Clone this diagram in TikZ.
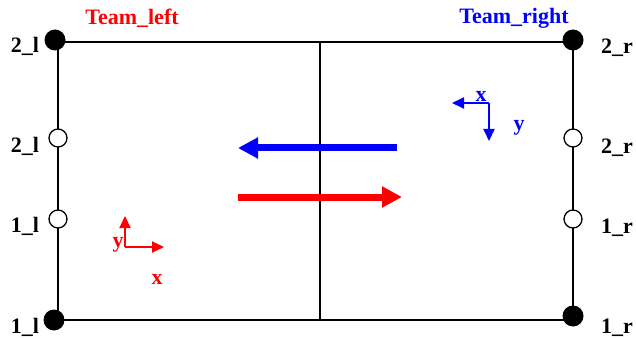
\documentclass[tikz,border=0pt]{standalone}
\usepackage{fontspec}
\setmainfont{Liberation Serif}
\usetikzlibrary{arrows.meta}
\begin{document}
\begin{tikzpicture}[x=1pt,y=-1pt,
  lbl/.style={font=\fontsize{22}{26}\selectfont\bfseries, inner sep=0pt},
  fdot/.style={circle, fill=black, minimum size=21pt, inner sep=0pt},
  odot/.style={circle, draw=black, fill=white, line width=1.3pt, minimum size=18pt, inner sep=0pt},
  edge/.style={line width=1.6pt},
  bigarrow/.style={line width=7pt, -{Triangle[length=20pt,width=20pt]}},
  axarrow/.style={line width=2pt, -{Triangle[length=12pt,width=11pt]}}]
\useasboundingbox (0,0) rectangle (636,339);
% frame corners
\coordinate (tl) at (58,42);
\coordinate (tr) at (573,42);
\coordinate (bl) at (58,320);
\coordinate (br) at (573,320);
\coordinate (mt) at (320,42);
\coordinate (mb) at (320,320);
\draw[edge] (tl) -- (tr) -- (br) -- (bl) -- cycle;
\draw[edge] (mt) -- (mb);
% dots
\node[fdot] (dTL) at (55,40) {};
\node[fdot] (dTR) at (573,40) {};
\node[fdot] (dBL) at (54,320) {};
\node[fdot] (dBR) at (573,316) {};
\node[odot] (oL2) at (58,138) {};
\node[odot] (oL1) at (58,219) {};
\node[odot] (oR2) at (573,138) {};
\node[odot] (oR1) at (573,219) {};
% labels
\node[lbl] (tL2) at (25,46) {2\_l};
\node[lbl] (tL2b) at (25,146) {2\_l};
\node[lbl] (tL1) at (25,226) {1\_l};
\node[lbl] (tL1b) at (25,327) {1\_l};
\node[lbl] (tR2) at (617,48) {2\_r};
\node[lbl] (tR2b) at (617,148) {2\_r};
\node[lbl] (tR1) at (617,228) {1\_r};
\node[lbl] (tR1b) at (617,328) {1\_r};
\node[lbl, text=red] (teamL) at (132,18) {Team\_left};
\node[lbl, text=blue] (teamR) at (514,18) {Team\_right};
% big arrows
\coordinate (bs) at (397,148);
\coordinate (be) at (238,148);
\coordinate (rs) at (238,197);
\coordinate (re) at (402,197);
\draw[bigarrow, blue] (bs) -- (be);
\draw[bigarrow, red] (rs) -- (re);
% red axes
\coordinate (ro) at (125,247);
\coordinate (ry) at (125,216);
\coordinate (rx) at (164,247);
\draw[axarrow, red] (ro) -- (ry);
\draw[axarrow, red] (ro) -- (rx);
\node[lbl, text=red] (ryl) at (118,245) {y};
\node[lbl, text=red] (rxl) at (157,279) {x};
% blue axes
\coordinate (bo) at (489,103);
\coordinate (bx) at (452,103);
\coordinate (by) at (489,141);
\draw[axarrow, blue] (bo) -- (bx);
\draw[axarrow, blue] (bo) -- (by);
\node[lbl, text=blue] (bxl) at (481,96) {x};
\node[lbl, text=blue] (byl) at (519,128) {y};
\end{tikzpicture}
\end{document}
